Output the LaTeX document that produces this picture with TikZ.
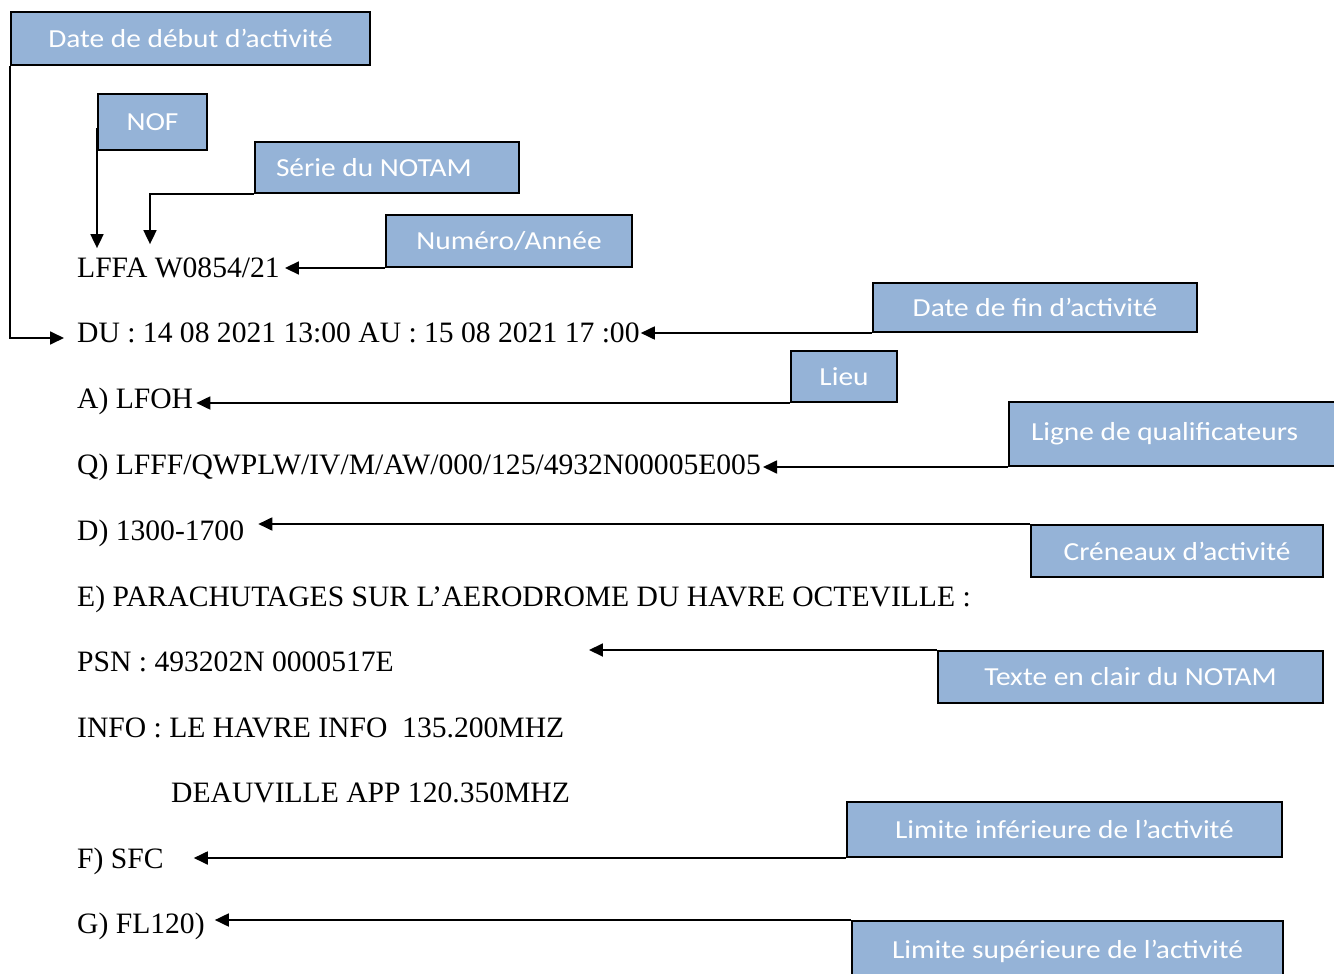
\documentclass[tikz,border=0pt]{standalone}
\usepackage{fontspec}
\setmainfont{Liberation Serif}
\newfontfamily\calibri[FakeStretch=1.13]{Carlito}
\usetikzlibrary{arrows.meta}
\definecolor{bleuetiq}{RGB}{149,179,215}
\tikzset{
  etiquette/.style={draw=black, line width=2pt, fill=bleuetiq, text=white,
    font=\calibri\fontsize{26}{30}\selectfont, anchor=north west, inner sep=0pt},
  ligne/.style={anchor=base west, inner sep=0pt, font=\fontsize{29.6}{34}\selectfont},
  fleche/.style={line width=1.8pt, -{Triangle[length=14pt,width=13pt]}}
}
\begin{document}
\begin{tikzpicture}[x=1pt,y=-1pt]
    \useasboundingbox (0,0) rectangle (1334,974);
    % texte du NOTAM
    \node[ligne] (tnum) at (77,277) {LFFA W0854/21};
    \node[ligne] (tdu) at (77,342) {DU : 14 08 2021 13:00 AU : 15 08 2021 17 :00};
    \node[ligne] (tlieu) at (77,408) {A) LFOH};
    \node[ligne] (tq) at (77,474) {Q) LFFF/QWPLW/IV/M/AW/000/125/4932N00005E005};
    \node[ligne] (td) at (77,540) {D) 1300-1700};
    \node[ligne] (te) at (77,606) {E) PARACHUTAGES SUR L’AERODROME DU HAVRE OCTEVILLE :};
    \node[ligne] (tpsn) at (77,671) {PSN : 493202N 0000517E};
    \node[ligne] (tinfo) at (77,737) {INFO : LE HAVRE INFO\ \ 135.200MHZ};
    \node[ligne] (tapp) at (171,802) {DEAUVILLE APP 120.350MHZ};
    \node[ligne] (tf) at (77,868) {F) SFC};
    \node[ligne] (tg) at (77,933) {G) FL120)};
    % etiquettes
    \node[etiquette, minimum width=359pt, minimum height=53pt] (debut) at (10,11) {Date de début d’activité};
    \node[etiquette, minimum width=109pt, minimum height=56pt] (nof) at (97,93) {NOF};
    \node[etiquette, text width=222pt, inner xsep=21pt, align=flush left, minimum height=51pt] (serie) at (254,141) {Série du NOTAM};
    \node[etiquette, minimum width=246pt, minimum height=52pt] (numero) at (385,214) {Numéro/Année};
    \node[etiquette, minimum width=324pt, minimum height=49pt] (fin) at (872,282) {Date de fin d’activité};
    \node[etiquette, minimum width=106pt, minimum height=51pt] (lieu) at (790,350) {Lieu};
    \node[etiquette, text width=300pt, inner xsep=22pt, align=flush left, minimum height=64pt] (qualif) at (1008,401) {Ligne de qualificateurs};
    \node[etiquette, minimum width=292pt, minimum height=52pt] (creneaux) at (1030,524) {Créneaux d’activité};
    \node[etiquette, minimum width=385pt, minimum height=52pt] (texte) at (937,650) {Texte en clair du NOTAM};
    \node[etiquette, minimum width=435pt, minimum height=55pt] (liminf) at (846,801) {Limite inférieure de l’activité};
    \node[etiquette, minimum width=431pt, minimum height=60pt] (limsup) at (851,920) {Limite supérieure de l’activité};
    % fleches
    \draw[fleche] (debut.south west) |- ([xshift=-13pt,yshift=4pt]tdu.base west);
    \draw[fleche] ([yshift=-6pt]nof.west) -- ([yshift=9pt]tnum.north -| nof.west);
    \draw[fleche] (serie.south west) -| ([xshift=73pt,yshift=13pt]tnum.north west);
    \draw[fleche] (numero.south west) -- ([xshift=5pt]tnum.east |- numero.south west);
    \draw[fleche] (fin.south west) -- ([xshift=1pt]tdu.east |- fin.south west);
    \draw[fleche] (lieu.south west) -- ([xshift=3pt]tlieu.east |- lieu.south west);
    \draw[fleche] (qualif.south west) -- ([xshift=2pt]tq.east |- qualif.south west);
    \draw[fleche] (creneaux.north west) -- ([xshift=14pt]td.east |- creneaux.north west);
    \draw[fleche] (texte.north west) -- ([xshift=195pt]tpsn.east |- texte.north west);
    \draw[fleche] (liminf.south west) -- ([xshift=30pt]tf.east |- liminf.south west);
    \draw[fleche] (limsup.north west) -- ([xshift=10pt]tg.east |- limsup.north west);
\end{tikzpicture}
\end{document}
